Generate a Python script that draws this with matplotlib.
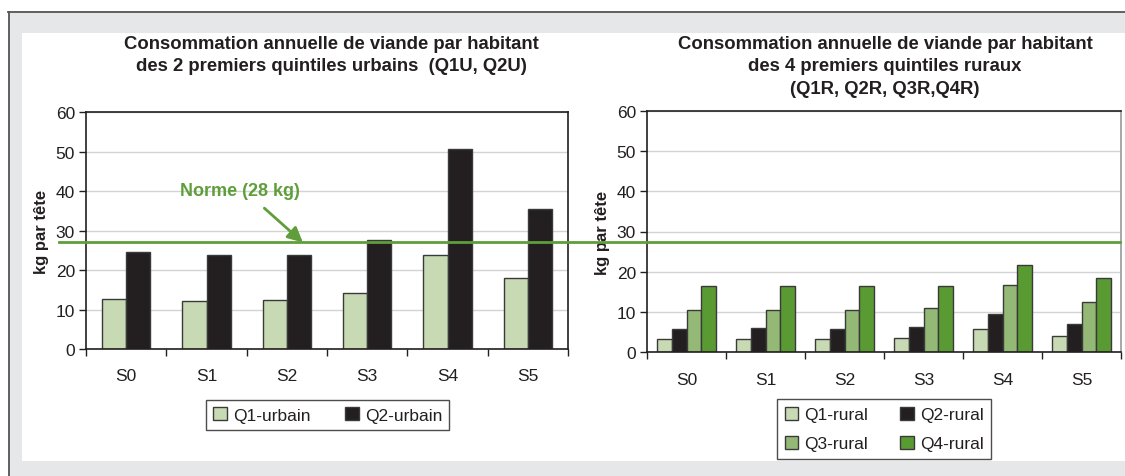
import matplotlib
matplotlib.use("Agg")
import matplotlib.pyplot as plt
import numpy as np
from matplotlib.patches import Rectangle
from matplotlib.lines import Line2D

plt.rcParams['font.family'] = ['Liberation Sans', 'DejaVu Sans']

categories = ["S0", "S1", "S2", "S3", "S4", "S5"]
q1_urbain = [12.8, 12.2, 12.5, 14.2, 23.8, 18.1]
q2_urbain = [24.5, 23.8, 23.8, 27.6, 50.6, 35.4]
q1_rural = [3.2, 3.2, 3.2, 3.5, 5.7, 4.0]
q2_rural = [5.7, 6.0, 5.7, 6.2, 9.5, 7.0]
q3_rural = [10.6, 10.6, 10.4, 10.9, 16.7, 12.6]
q4_rural = [16.4, 16.4, 16.4, 16.4, 21.7, 18.4]
norme_value = 27.0
norme_label = "Norme (28 kg)"
yticks = [0, 10, 20, 30, 40, 50, 60]

title_left = "Consommation annuelle de viande par habitant\ndes 2 premiers quintiles urbains  (Q1U, Q2U)"
title_right = "Consommation annuelle de viande par habitant\ndes 4 premiers quintiles ruraux\n(Q1R, Q2R, Q3R,Q4R)"
ylabel = "kg par tête"

C_Q1 = "#c8dab4"
C_Q2 = "#231f20"
C_Q3 = "#94b976"
C_Q4 = "#5a9a32"
GREEN = "#5f9e3a"
EDGE = "#3a3a3a"
TXT = "#231f20"
FS = 12.5

W, H = 1125, 477
fig = plt.figure(figsize=(W / 100, H / 100), dpi=100)
fig.patch.set_facecolor("white")

def px(x, y):
    return x / W, 1 - y / H

# background frame
fig.patches.append(Rectangle(px(8, 477), (W - 8) / W, (477 - 12) / H, transform=fig.transFigure,
                             facecolor="#e6e7e8", edgecolor="none", zorder=-3))
fig.patches.append(Rectangle(px(22, 462), (W - 22) / W, (462 - 34) / H, transform=fig.transFigure,
                             facecolor="white", edgecolor="none", zorder=-2))
fig.lines.append(Line2D([8 / W, 1], [1 - 12.5 / H, 1 - 12.5 / H], transform=fig.transFigure, color="#555555", lw=1.3))
fig.lines.append(Line2D([8.5 / W, 8.5 / W], [0, 1 - 12.5 / H], transform=fig.transFigure, color="#555555", lw=1.3))

def make_ax(x0, x1, ytop, ybot):
    l, b = x0 / W, 1 - ybot / H
    return fig.add_axes([l, b, (x1 - x0) / W, (ybot - ytop) / H])

axL = make_ax(86, 568, 113.3, 350)
axR = make_ax(647, 1121, 111.7, 353.3)

def style(ax, right_gray=False):
    ax.set_xlim(-0.5, len(categories) - 0.5)
    ax.set_ylim(0, 60)
    ax.set_yticks(yticks)
    ax.set_xticks(np.arange(len(categories)))
    ax.set_xticklabels(categories)
    ax.set_xticks(np.arange(len(categories) + 1) - 0.5, minor=True)
    ax.tick_params(axis="x", which="major", length=0, pad=14, labelsize=FS, labelcolor=TXT)
    ax.tick_params(axis="x", which="minor", length=5, direction="out", color=TXT, width=1)
    ax.tick_params(axis="y", length=5, direction="out", color=TXT, width=1, labelsize=FS, labelcolor=TXT, pad=3)
    ax.grid(axis="y", color="#d3d3d3", lw=1)
    ax.set_axisbelow(True)
    for s in ax.spines.values():
        s.set_color("#231f20")
        s.set_linewidth(1.2)
    if right_gray:
        ax.spines["right"].set_color("#9a9a9a")
    ax.set_ylabel(ylabel, fontsize=12, fontweight="bold", color=TXT, labelpad=5)

style(axL)
style(axR, right_gray=True)

x = np.arange(len(categories))
wL = 0.30
bL1 = axL.bar(x - wL / 2, q1_urbain, wL, color=C_Q1, edgecolor=EDGE, lw=1, label="Q1-urbain")
bL2 = axL.bar(x + wL / 2, q2_urbain, wL, color=C_Q2, edgecolor=EDGE, lw=1, label="Q2-urbain")

wR = 0.187
series_R = [(q1_rural, C_Q1, "Q1-rural"), (q2_rural, C_Q2, "Q2-rural"),
            (q3_rural, C_Q3, "Q3-rural"), (q4_rural, C_Q4, "Q4-rural")]
handlesR = []
for i, (vals, col, lab) in enumerate(series_R):
    h = axR.bar(x + (i - 1.5) * wR, vals, wR, color=col, edgecolor=EDGE, lw=1, label=lab)
    handlesR.append(h)

# titles
fig.text(331 / W, 1 - 36 / H, title_left, ha="center", va="top", fontsize=13.3, fontweight="bold",
         color=TXT, linespacing=1.42)
fig.text(885 / W, 1 - 36 / H, title_right, ha="center", va="top", fontsize=13.3, fontweight="bold",
         color=TXT, linespacing=1.42)

# norm line across both charts (figure level)
fig.canvas.draw()
yfig = fig.transFigure.inverted().transform(axL.transData.transform((0, norme_value)))[1]
fig.lines.append(Line2D([59 / W, 1120 / W], [yfig, yfig], transform=fig.transFigure, color=GREEN, lw=2, zorder=5))

axL.text(1.42, 40.3, norme_label, color=GREEN, fontsize=13, fontweight="bold", ha="center", va="center")
axL.annotate("", xy=(2.2, norme_value), xytext=(1.72, 35.7),
             arrowprops=dict(arrowstyle="-|>,head_length=0.9,head_width=0.45", color=GREEN, lw=2,
                             shrinkA=0, shrinkB=0),
             annotation_clip=False)

legL = fig.legend(handles=[bL1, bL2], loc="center", bbox_to_anchor=(327.5 / W, 1 - 416 / H), ncol=2,
                  frameon=True, fancybox=False, edgecolor="#231f20", fontsize=FS,
                  handlelength=0.8, handleheight=0.8, handletextpad=0.35, columnspacing=2.0,
                  borderpad=0.4, labelcolor=TXT)
legL.get_frame().set_linewidth(1)
legR = fig.legend(handles=[handlesR[0], handlesR[2], handlesR[1], handlesR[3]], loc="center",
                  bbox_to_anchor=(884 / W, 1 - 430 / H), ncol=2,
                  frameon=True, fancybox=False, edgecolor="#231f20", fontsize=FS,
                  handlelength=0.8, handleheight=0.8, handletextpad=0.35, columnspacing=1.8,
                  borderpad=0.45, labelspacing=0.75, labelcolor=TXT)
legR.get_frame().set_linewidth(1)

fig.savefig("out.png", dpi=100, facecolor=fig.get_facecolor())
